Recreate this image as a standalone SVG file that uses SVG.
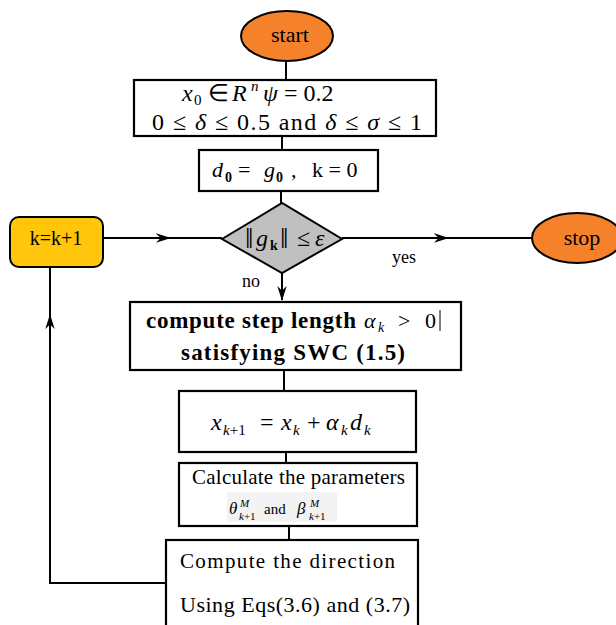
<svg xmlns="http://www.w3.org/2000/svg" width="616" height="625" viewBox="0 0 616 625" font-family="'Liberation Serif', 'Times New Roman', serif">
<defs>
<style>
.box{fill:#fff;stroke:#000;stroke-width:2.2}
.ell{fill:#F5822A;stroke:#000;stroke-width:2}
.ln{fill:none;stroke:#000;stroke-width:2}
text{font-family:"Liberation Serif","Times New Roman",serif;fill:#000}
.it{font-style:italic}
.b{font-weight:bold}
</style>
<marker id="ah" markerUnits="userSpaceOnUse" viewBox="0 0 16 10" refX="15" refY="5" markerWidth="15" markerHeight="10" orient="auto">
<path d="M0,0 L16,5 L0,10 L5,5 Z" fill="#000"/>
</marker>
</defs>
<g id="connectors">
<path class="ln" d="M286,61 V80"/>
<path class="ln" d="M282,136 V150"/>
<path class="ln" d="M281,191 V203"/>
<path class="ln" d="M103,238 H170" marker-end="url(#ah)"/>
<path class="ln" d="M168,238 H222"/>
<path class="ln" d="M342,238 H448" marker-end="url(#ah)"/>
<path class="ln" d="M446,238 H532"/>
<path class="ln" d="M282,273 V300" marker-end="url(#ah)"/>
<path class="ln" d="M284,370 V391"/>
<path class="ln" d="M286,452 V463"/>
<path class="ln" d="M289,526 V540"/>
<path class="ln" d="M167,583 H50 V315" marker-end="url(#ah)"/>
<path class="ln" d="M50,317 V267"/>
<text x="392" y="263" font-size="18">yes</text>
<text x="242" y="287" font-size="18">no</text>
</g>
<g id="start">
<ellipse class="ell" cx="287" cy="36" rx="46" ry="25"/>
<text x="290" y="42" font-size="22" text-anchor="middle">start</text>
</g>
<g id="init">
<rect class="box" x="134" y="80" width="302" height="56"/>
<text y="101" font-size="24"><tspan class="it" x="182">x</tspan><tspan font-size="15" x="194" dy="4">0</tspan><tspan x="208" dy="-4">∈</tspan><tspan class="it" x="232">R</tspan><tspan class="it" font-size="15" x="251" dy="-10">n</tspan><tspan class="it" x="263" dy="10">ψ</tspan><tspan x="284">= 0.2</tspan></text>
<text x="152" y="130" font-size="24" textLength="270" lengthAdjust="spacing">0 ≤ <tspan class="it">δ</tspan> ≤ 0.5  and <tspan class="it">δ</tspan> ≤ <tspan class="it">σ</tspan> ≤ 1</text>
</g>
<g id="d0">
<rect class="box" x="199" y="150" width="179" height="41"/>
<text y="177" font-size="22"><tspan class="it" x="212">d</tspan><tspan class="b" font-size="14" x="225" dy="5">0</tspan><tspan x="238" dy="-5">=</tspan><tspan class="it" x="264">g</tspan><tspan class="b" font-size="14" x="276" dy="5">0</tspan><tspan x="291" dy="-5">,</tspan><tspan x="312">k = 0</tspan></text>
</g>
<g id="kinc">
<rect x="10" y="217" width="93" height="50" rx="9" fill="#FFC60B" stroke="#000" stroke-width="2"/>
<text x="56" y="245" font-size="20" text-anchor="middle">k=k+1</text>
</g>
<g id="test">
<polygon points="222,239 282,203 342,239 282,273" fill="#C0C0C0" stroke="#000" stroke-width="2"/>
<text y="246" font-size="24"><tspan x="245" font-size="30" dy="2">‖</tspan><tspan class="it" x="256" dy="-2">g</tspan><tspan class="b" font-size="14" x="270" dy="4">k</tspan><tspan x="280" font-size="30" dy="-2">‖</tspan><tspan x="297" dy="-2">≤</tspan><tspan class="it" x="315">ε</tspan></text>
</g>
<g id="stop">
<ellipse class="ell" cx="577" cy="238" rx="45" ry="25"/>
<text x="582" y="245" font-size="22" text-anchor="middle">stop</text>
</g>
<g id="step">
<rect class="box" x="130" y="302" width="331" height="68"/>
<text x="146" y="328" font-size="23" class="b" textLength="210" lengthAdjust="spacing">compute step length</text>
<text y="328" font-size="22"><tspan class="it" x="364">α</tspan><tspan class="it" font-size="14" x="378" dy="4">k</tspan><tspan x="398" dy="-4">&gt;</tspan><tspan x="425">0</tspan></text>
<line x1="440" y1="310" x2="440" y2="331" stroke="#000" stroke-width="1"/>
<text x="293" y="360" font-size="23" class="b" text-anchor="middle" textLength="224" lengthAdjust="spacing">satisfying SWC (1.5)</text>
</g>
<g id="update">
<rect class="box" x="179" y="391" width="237" height="61"/>
<text y="430" font-size="24"><tspan class="it" x="211">x</tspan><tspan font-size="15" x="223" dy="5"><tspan class="it">k</tspan>+1</tspan><tspan x="260" dy="-5">=</tspan><tspan class="it" x="281">x</tspan><tspan class="it" font-size="15" x="293" dy="5">k</tspan><tspan x="307" dy="-5">+</tspan><tspan class="it" x="326">α</tspan><tspan class="it" font-size="15" x="341" dy="5">k</tspan><tspan class="it" x="350" dy="-5">d</tspan><tspan class="it" font-size="15" x="364" dy="5">k</tspan></text>
</g>
<g id="params">
<rect class="box" x="179" y="463" width="238" height="63"/>
<text x="192" y="484" font-size="21" textLength="213" lengthAdjust="spacing">Calculate the parameters</text>
<rect x="227" y="492" width="110" height="30" fill="#F3F3F3"/>
<text x="229" y="514" font-size="17" class="it" fill="#333">θ</text>
<text x="240" y="507" font-size="11" class="it" fill="#333">M</text>
<text x="239" y="520" font-size="11" fill="#333"><tspan class="it">k</tspan>+1</text>
<text x="264" y="514" font-size="15">and</text>
<text x="297" y="514" font-size="17" class="it" fill="#333">β</text>
<text x="310" y="507" font-size="11" class="it" fill="#333">M</text>
<text x="309" y="520" font-size="11" fill="#333"><tspan class="it">k</tspan>+1</text>
</g>
<g id="direction">
<rect class="box" x="166" y="540" width="252" height="90"/>
<text x="180" y="568" font-size="21" textLength="215" lengthAdjust="spacing">Compute the  direction</text>
<text x="180" y="612" font-size="22" textLength="230" lengthAdjust="spacing">Using Eqs(3.6) and (3.7)</text>
</g>
</svg>
